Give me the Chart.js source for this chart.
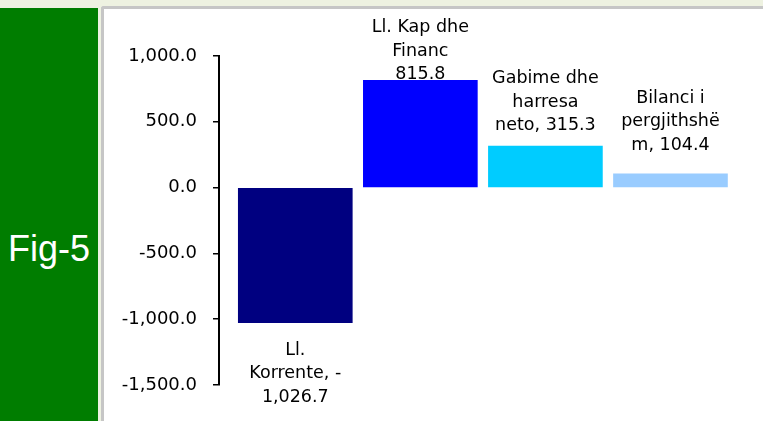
<!DOCTYPE html>
<html>
<head>
<meta charset="utf-8">
<script src="https://cdn.jsdelivr.net/npm/chart.js@4"></script>
<style>
  html, body { margin: 0; padding: 0; }
  body { width: 763px; height: 421px; position: relative; overflow: hidden; background: #eef2e1; }
  #green { position: absolute; left: 0; top: 8px; width: 98px; height: 413px; background: #007d00; }
  #fig { position: absolute; left: 8px; top: 231px; font: 36px "Liberation Sans", Arial, sans-serif; line-height: 36px; color: #fff; }
  #panel { position: absolute; left: 101px; top: 6px; width: 662px; height: 415px; background: #fff;
           border-top: 3px solid #c6c6c6; border-left: 3px solid #c6c6c6; border-top-left-radius: 3px; box-sizing: border-box; }
  canvas { position: absolute; left: 0; top: 0; }
</style>
</head>
<body>
<div id="green"></div>
<div id="fig">Fig-5</div>
<div id="panel"></div>
<canvas id="c" width="763" height="421"></canvas>
<script>
const categories = ["Ll. Korrente", "Ll. Kap dhe Financ", "Gabime dhe harresa neto", "Bilanci i pergjithshëm"];
const values = [-1026.7, 815.8, 315.3, 104.4];
const labelLines = [
  ["Ll.", "Korrente, -", "1,026.7"],
  ["Ll. Kap dhe", "Financ", "815.8"],
  ["Gabime dhe", "harresa", "neto, 315.3"],
  ["Bilanci i", "pergjithshë", "m, 104.4"]
];
const barColors = ["#000080", "#0000ff", "#00ccff", "#99ccff"];
const yTicks = [-1500, -1000, -500, 0, 500, 1000];

const fmt = v => v.toLocaleString("en-US", { minimumFractionDigits: 1, maximumFractionDigits: 1 });

const labelPlugin = {
  id: "barLabels",
  afterDatasetsDraw(chart, args, opts) {
    const ctx = chart.ctx;
    const meta = chart.getDatasetMeta(0);
    ctx.save();
    ctx.font = opts.font;
    ctx.fillStyle = "#000";
    ctx.textAlign = "center";
    ctx.textBaseline = "alphabetic";
    meta.data.forEach((bar, i) => {
      const lines = labelLines[i];
      const lh = opts.lineHeight;
      const gap = opts.gaps[i];
      if (values[i] < 0) {
        lines.forEach((t, k) => ctx.fillText(t, bar.x, bar.y + gap + k * lh));
      } else {
        const start = bar.y - gap - (lines.length - 1) * lh;
        lines.forEach((t, k) => ctx.fillText(t, bar.x, start + k * lh));
      }
    });
    ctx.restore();
  }
};

new Chart(document.getElementById("c"), {
  type: "bar",
  data: {
    datasets: [{
      label: "Fig-5",
      data: values.map((v, i) => ({ x: i, y: v })),
      backgroundColor: barColors,
      borderWidth: 0,
      barThickness: 114
    }]
  },
  options: {
    responsive: false,
    animation: false,
    layout: { padding: { left: 0, top: 56, bottom: 36, right: 30 } },
    plugins: {
      legend: { display: false },
      tooltip: { enabled: false },
      barLabels: { font: '17.5px "DejaVu Sans"', lineHeight: 23.5, gaps: [32, 1, 16, 24] }
    },
    scales: {
      x: {
        type: "linear",
        min: -0.61,
        max: 3.5,
        offset: false,
        display: false,
        grid: { display: false, offset: false }
      },
      y: {
        min: -1500,
        max: 1000,
        afterFit(scale) { scale.width = 219; },
        afterBuildTicks(scale) { scale.ticks = yTicks.map(v => ({ value: v })); },
        ticks: {
          color: "#000",
          font: { family: "DejaVu Sans", size: 18 },
          padding: 16,
          callback: v => fmt(v)
        },
        grid: { drawOnChartArea: false, drawTicks: true, tickLength: 6, color: "#000", lineWidth: 1.5 },
        border: { display: true, color: "#000", width: 2 }
      }
    }
  },
  plugins: [labelPlugin]
});
</script>
</body>
</html>
